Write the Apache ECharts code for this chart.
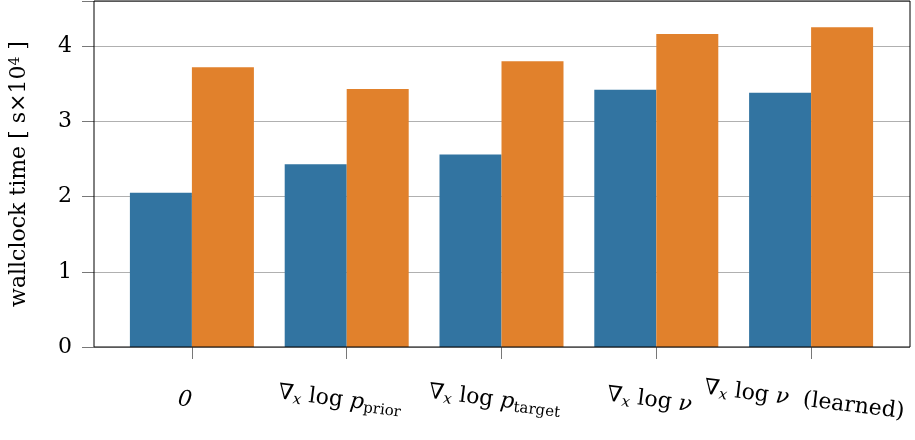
<!DOCTYPE html>
<html><head><meta charset="utf-8">
<script src="https://cdn.jsdelivr.net/npm/echarts@6/dist/echarts.min.js"></script>
<style>html,body{margin:0;padding:0;background:#fff}#c{width:915px;height:440px}</style>
</head><body><div id="c"></div>
<script>
const categories = ['zero', 'prior', 'target', 'nu', 'learned'];
const seriesA = [2.05, 2.43, 2.56, 3.42, 3.38];
const seriesB = [3.72, 3.43, 3.80, 4.16, 4.25];
const yTicks = [0, 1, 2, 3, 4];

const F = 'DejaVu Serif';
const labelText = {
  zero: '{it|0}',
  prior: '{n|∇}{sx|x}{n| log }{it|p}{sub|prior}',
  target: '{n|∇}{sx|x}{n| log }{it|p}{sub|target}',
  nu: '{n|∇}{sx|x}{n| log }{it|ν}',
  learned: '{n|∇}{sx|x}{n| log }{it|ν}{n|  (learned)}'
};
const chart = echarts.init(document.getElementById('c'));
const YMAX = 4.6;
chart.setOption({
  animation: false,
  grid: [
    {left: 93, right: 5, top: 1, bottom: 93, show: true, borderColor: '#000', borderWidth: 1, backgroundColor: 'transparent', z: 3},
    {left: 114.5, right: 26.5, top: 1, bottom: 93}
  ],
  xAxis: [
    {type: 'value', gridIndex: 0, min: 0, max: 1, show: false},
    {
      type: 'category', gridIndex: 1, data: categories,
      axisLine: {show: false},
      axisTick: {show: true, alignWithLabel: true, length: 12, lineStyle: {color: '#777'}},
      axisLabel: {
        interval: 0, rotate: -7, margin: 54, align: 'center', verticalAlign: 'middle',
        padding: [0, 14, 0, 0],
        formatter: v => labelText[v],
        rich: {
          n: {fontFamily: F, fontSize: 22, color: '#000'},
          it: {fontFamily: F, fontSize: 22, fontStyle: 'italic', color: '#000'},
          sx: {fontFamily: F, fontSize: 15, fontStyle: 'italic', color: '#000', verticalAlign: 'bottom', padding: [10, 0, 0, 0]},
          sub: {fontFamily: F, fontSize: 15, fontStyle: 'normal', color: '#000', verticalAlign: 'bottom', padding: [10, 0, 0, 0]}
        }
      }
    }
  ],
  yAxis: [
    {
      type: 'value', gridIndex: 0, min: 0, max: YMAX, interval: 1,
      name: '{n|wallclock time [ s×10}{sup|4}{n| ]}',
      nameLocation: 'middle', nameGap: 63, nameRotate: 90,
      nameTextStyle: {rich: {
        n: {fontFamily: F, fontSize: 22, color: '#000'},
        sup: {fontFamily: F, fontSize: 14, color: '#000', verticalAlign: 'top', padding: [0, 0, 9, 0]}
      }},
      axisLine: {show: false},
      axisTick: {show: true, length: 12, lineStyle: {color: '#777'}},
      axisLabel: {fontFamily: F, fontSize: 22, color: '#000', margin: 22,
        formatter: v => yTicks.includes(v) ? String(v) : ''},
      splitLine: {show: true, lineStyle: {color: '#b0b0b0', width: 1}}
    },
    {type: 'value', gridIndex: 1, min: 0, max: YMAX, show: false, splitLine: {show: false}}
  ],
  series: [
    {type: 'bar', xAxisIndex: 1, yAxisIndex: 1, data: seriesA, itemStyle: {color: '#3274a1'}, barWidth: 62, barGap: '0%'},
    {type: 'bar', xAxisIndex: 1, yAxisIndex: 1, data: seriesB, itemStyle: {color: '#e1812c'}, barWidth: 62, barGap: '0%'}
  ]
});
</script></body></html>
